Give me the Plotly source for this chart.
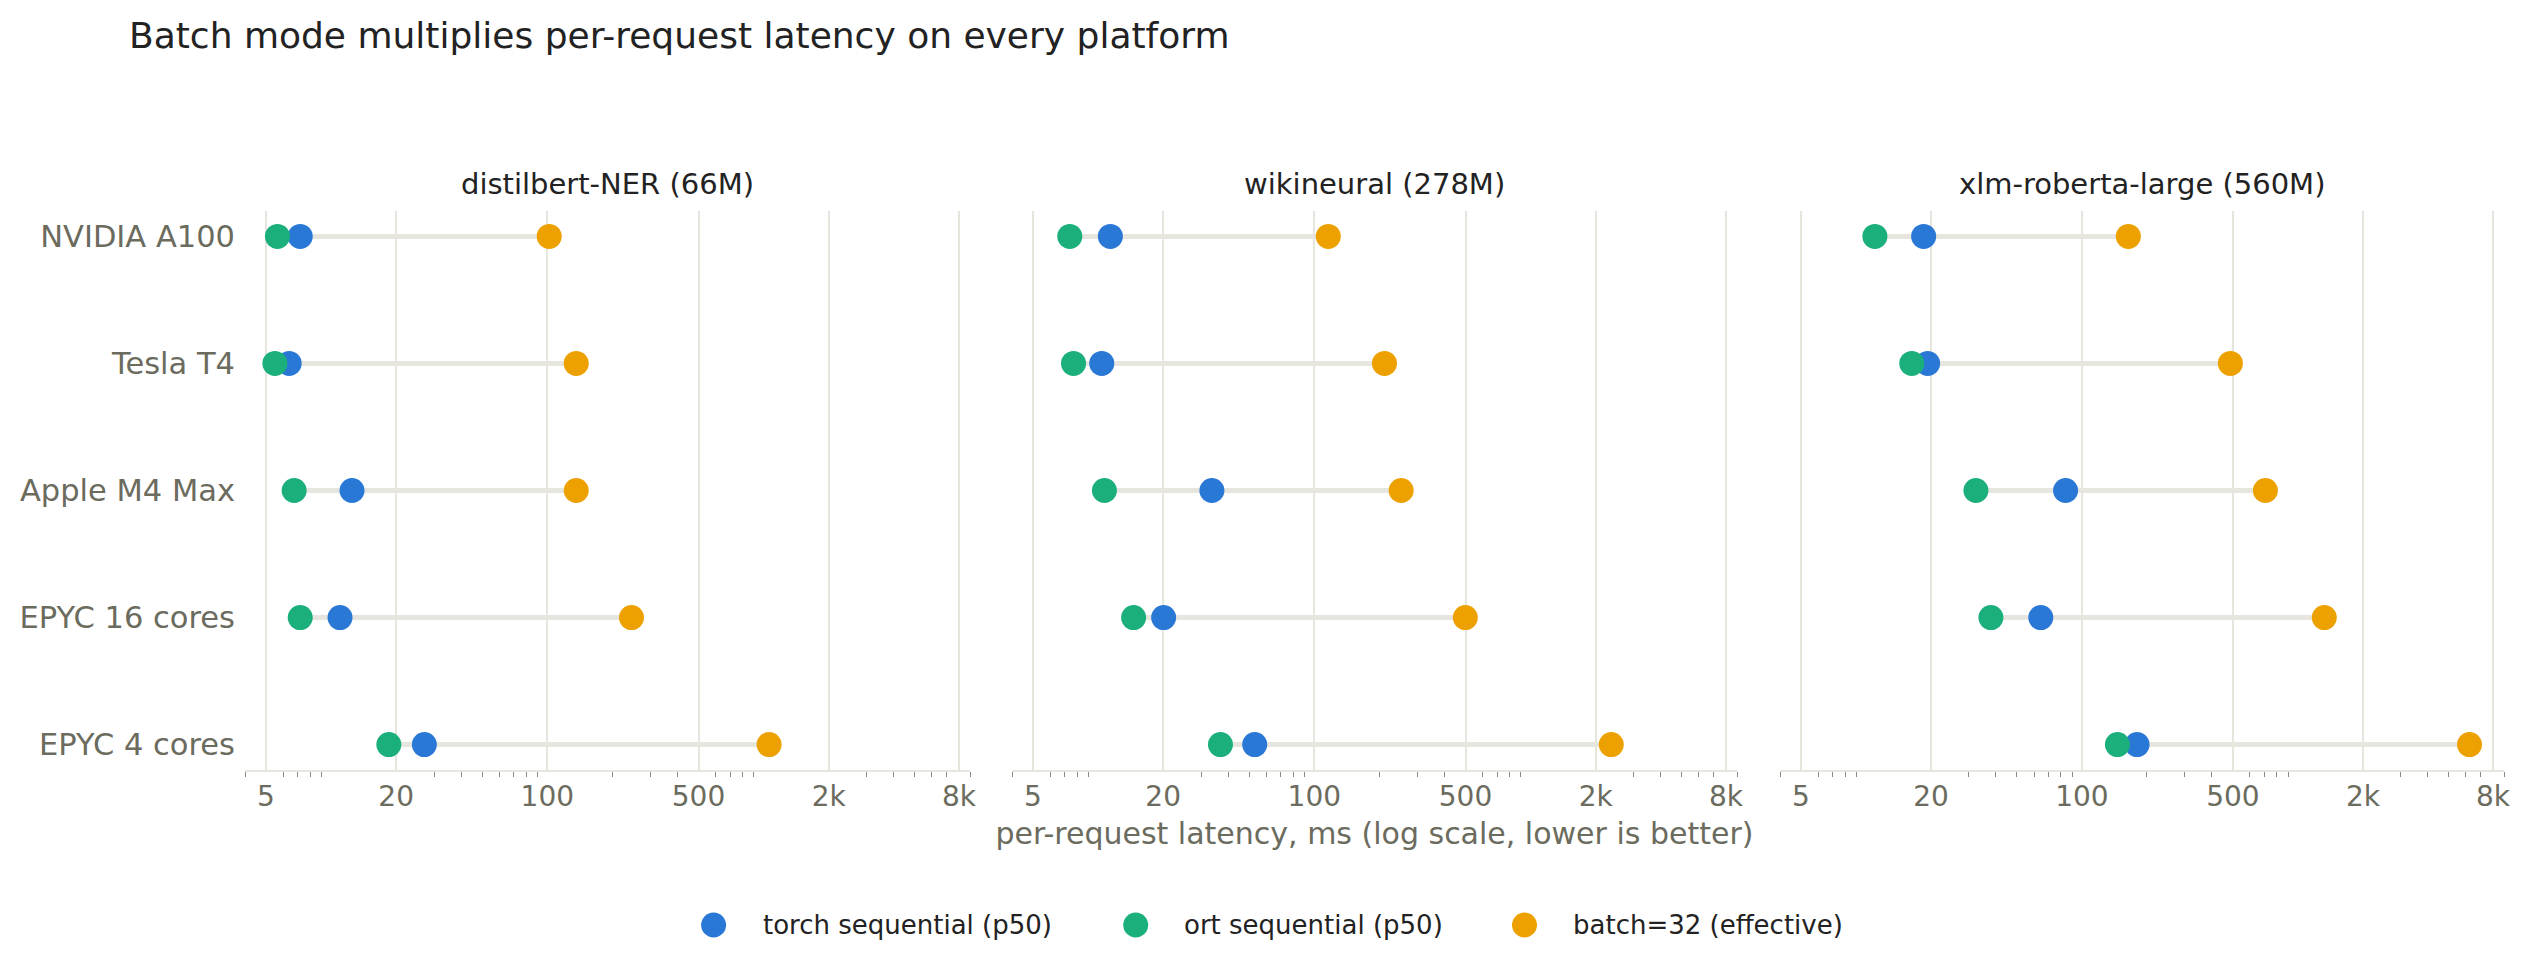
import plotly.graph_objects as go

platforms = ["NVIDIA A100", "Tesla T4", "Apple M4 Max", "EPYC 16 cores", "EPYC 4 cores"]
models = ["distilbert-NER (66M)", "wikineural (278M)", "xlm-roberta-large (560M)"]

torch_seq = {
    "distilbert-NER (66M)": [7.2, 6.4, 12.5, 11.0, 27.0],
    "wikineural (278M)": [11.4, 10.4, 33.6, 20.1, 53.0],
    "xlm-roberta-large (560M)": [18.5, 19.3, 84.0, 64.5, 180.0],
}
ort_seq = {
    "distilbert-NER (66M)": [5.65, 5.5, 6.75, 7.2, 18.5],
    "wikineural (278M)": [7.4, 7.7, 10.7, 14.6, 36.8],
    "xlm-roberta-large (560M)": [11.0, 16.3, 32.3, 37.9, 146.0],
}
batch32 = {
    "distilbert-NER (66M)": [102.0, 136.0, 136.0, 245.0, 1060.0],
    "wikineural (278M)": [116.0, 211.0, 252.0, 499.0, 2360.0],
    "xlm-roberta-large (560M)": [164.0, 487.0, 707.0, 1325.0, 6230.0],
}

series_names = ["torch sequential (p50)", "ort sequential (p50)", "batch=32 (effective)"]
series_colors = ["#2a78d6", "#1bb07b", "#eda100"]

major_ticks = [5, 20, 100, 500, 2000, 8000]
major_labels = ["5", "20", "100", "500", "2k", "8k"]
minor_ticks = [4, 6, 7, 8, 9, 30, 40, 50, 60, 70, 80, 90, 200, 300, 400, 600, 700, 800, 900,
               3000, 4000, 5000, 6000, 7000, 9000]

W, H = 2531, 968
ML, MR, MT, MB = 245, 27, 211, 198
PW = W - ML - MR
PH = H - MT - MB
dom_px = [(245, 970), (1012, 1737), (1780, 2504)]
domains = [[(a - ML) / PW, (b - ML) / PW] for a, b in dom_px]

FONT = "DejaVu Sans"
GRID = "#e6e6df"
MUTED = "#6b6b5e"
DARK = "#222222"

fig = go.Figure()

for i, m in enumerate(models):
    xa = "x" if i == 0 else f"x{i+1}"
    ya = "y" if i == 0 else f"y{i+1}"
    # connectors
    lx, ly = [], []
    for j, p in enumerate(platforms):
        vals = [torch_seq[m][j], ort_seq[m][j], batch32[m][j]]
        lx += [min(vals), max(vals), None]
        ly += [p, p, None]
    fig.add_trace(go.Scatter(x=lx, y=ly, mode="lines", line=dict(color=GRID, width=5),
                             hoverinfo="skip", showlegend=False, xaxis=xa, yaxis=ya))
    for k, (name, data) in enumerate(zip(series_names, [torch_seq, ort_seq, batch32])):
        fig.add_trace(go.Scatter(
            x=data[m], y=platforms, mode="markers", name=name,
            marker=dict(color=series_colors[k], size=25, line=dict(width=0)),
            showlegend=False, legendgroup=name, xaxis=xa, yaxis=ya))

layout = dict(
    width=W, height=H,
    margin=dict(l=ML, r=MR, t=MT, b=MB),
    paper_bgcolor="white", plot_bgcolor="white",
    font=dict(family=FONT, color=DARK),
    showlegend=False,
    title=dict(text="Batch mode multiplies per-request latency on every platform",
               font=dict(size=36, color=DARK, family=FONT),
               x=129 / W, xref="container", xanchor="left",
               y=1 - 35.5 / H, yref="container", yanchor="middle"),
)

for i in range(3):
    xk = "xaxis" if i == 0 else f"xaxis{i+1}"
    yk = "yaxis" if i == 0 else f"yaxis{i+1}"
    layout[xk] = dict(
        type="log", domain=domains[i], anchor="y" if i == 0 else f"y{i+1}",
        range=[0.60206, 3.95424],
        tickmode="array", tickvals=major_ticks, ticktext=major_labels,
        ticks="outside", ticklen=0, tickcolor="#8a8a80",
        tickfont=dict(size=28, color=MUTED, family=FONT),
        showgrid=True, gridcolor=GRID, gridwidth=2,
        showline=True, linecolor=GRID, linewidth=2,
        zeroline=False,
        minor=dict(tickmode="array", tickvals=minor_ticks, ticks="outside", ticklen=5,
                   tickcolor="#8a8a80", tickwidth=1, showgrid=False),
    )
    layout[yk] = dict(
        type="category", categoryorder="array", categoryarray=platforms,
        range=[4.2, -0.2], domain=[0, 1], anchor="x" if i == 0 else f"x{i+1}",
        showgrid=False, zeroline=False, showline=False, ticks="",
        showticklabels=(i == 0),
        tickfont=dict(size=30.5, color=MUTED, family=FONT),
        ticklabelstandoff=9,
    )
    if i > 0:
        layout[yk]["matches"] = "y"

layout["xaxis2"]["title"] = dict(text="per-request latency, ms (log scale, lower is better)",
                                 font=dict(size=30, color=MUTED, family=FONT), standoff=11)

fig.update_layout(**layout)

for i, m in enumerate(models):
    cx = (domains[i][0] + domains[i][1]) / 2
    fig.add_annotation(text=m, x=cx, xref="paper", xanchor="center",
                       y=1, yref="paper", yanchor="bottom", yshift=8, showarrow=False,
                       font=dict(size=29, color=DARK, family=FONT))

# custom legend (symbols + labels)
legend_sym_px = [713.6, 1135.7, 1524.5]
legend_txt_px = [760.5, 1181.7, 1570.6]
legend_y_px = 925
ly_paper = (H - MB - legend_y_px) / PH
for k, name in enumerate(series_names):
    fig.add_shape(type="circle", xref="paper", yref="paper",
                  xsizemode="pixel", ysizemode="pixel",
                  xanchor=(legend_sym_px[k] - ML) / PW, yanchor=ly_paper,
                  x0=-12.5, x1=12.5, y0=-12.5, y1=12.5,
                  fillcolor=series_colors[k], line=dict(width=0))
    fig.add_annotation(text=name, x=(legend_txt_px[k] - ML) / PW, xref="paper", xanchor="left",
                       y=ly_paper, yref="paper", yanchor="middle", showarrow=False,
                       font=dict(size=26, color=DARK, family=FONT))

fig.write_html("out.html")
